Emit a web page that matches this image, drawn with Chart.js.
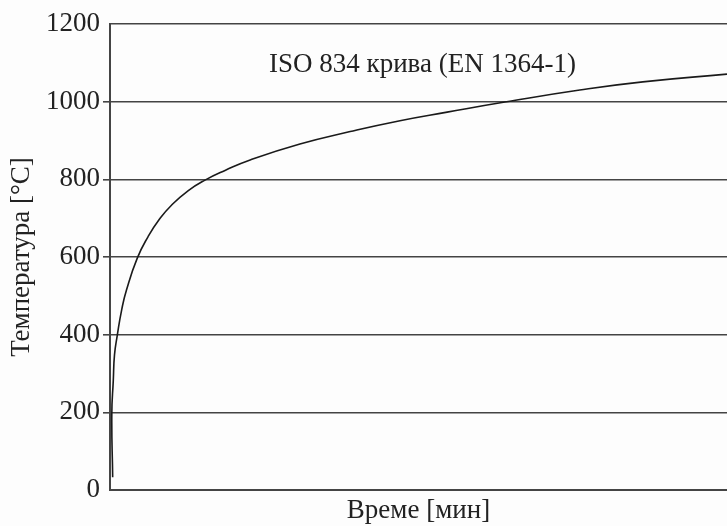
<!DOCTYPE html>
<html>
<head>
<meta charset="utf-8">
<script src="https://cdn.jsdelivr.net/npm/chart.js@4.4.0/dist/chart.umd.min.js"></script>
<style>
  html, body { margin: 0; padding: 0; background: #fdfdfd; }
  #wrap { width: 727px; height: 526px; }
</style>
</head>
<body>
<div id="wrap"><canvas id="isoChart"></canvas></div>
<script>
// values (time in min, temperature in °C)
const timeMin = [0.61, 0.41, 0.75, 1.02, 1.66, 2.65, 3.74, 6.19, 8.62, 11.2, 14.0, 17.77, 21.56, 26.1, 31.8, 43.1, 54.5, 65.8, 76.5, 89.6, 106.6, 120.9, 140];
const tempC   = [33, 196, 283, 348, 399, 464, 515, 597, 652, 697, 734, 771, 798, 823, 850, 891, 923, 951, 973, 999, 1030, 1051, 1071];
const yTicks  = [0, 200, 400, 600, 800, 1000, 1200];

const curveLabel = 'ISO 834 крива (EN 1364-1)';
const xTitle = 'Време [мин]';
const yTitle = 'Температура [°C]';

const serif = '"Liberation Serif", "DejaVu Serif", serif';
const textColor = '#222';
const lineColor = '#444';

// curve name written inside the plot
const curveName = {
    id: 'curveName',
    afterDatasetsDraw(chart) {
        const { ctx, chartArea } = chart;
        ctx.save();
        ctx.font = '27px ' + serif;
        ctx.fillStyle = textColor;
        ctx.textAlign = 'center';
        ctx.textBaseline = 'alphabetic';
        ctx.fillText(curveLabel, (chartArea.left + chartArea.right) / 2 + 4, chartArea.top + 48);
        ctx.restore();
    }
};

const ctx = document.getElementById('isoChart').getContext('2d');

new Chart(ctx, {
    type: 'line',
    data: {
        datasets: [{
            label: curveLabel,
            data: timeMin.map((t, i) => ({ x: t, y: tempC[i] })),
            borderColor: '#1a1a1a',
            borderWidth: 1.6,
            pointRadius: 0,
            fill: false,
            tension: 0.5
        }]
    },
    options: {
        responsive: true,
        maintainAspectRatio: false,
        animation: false,
        layout: { padding: { top: 24, right: 0, bottom: 0, left: 0 } },
        plugins: {
            legend: { display: false },
            tooltip: { enabled: false }
        },
        scales: {
            x: {
                type: 'linear',
                min: 0,
                max: 140,
                ticks: { display: false },
                grid: { display: false, drawTicks: false },
                border: { display: true, color: lineColor, width: 2 },
                title: {
                    display: true,
                    text: xTitle,
                    color: textColor,
                    font: { family: serif, size: 27, lineHeight: 1.1 },
                    padding: { top: 0, bottom: 0 }
                },
                afterFit: s => { s.height = 36; }
            },
            y: {
                min: 0,
                max: 1200,
                afterBuildTicks: s => { s.ticks = yTicks.map(v => ({ value: v })); },
                ticks: {
                    color: textColor,
                    padding: 3,
                    font: { family: serif, size: 27 },
                    callback: v => String(v)
                },
                grid: {
                    color: lineColor,
                    lineWidth: 1.6,
                    tickLength: 7,
                    tickColor: c => (c.tick && (c.tick.value === 0 || c.tick.value === 1200)) ? 'rgba(0,0,0,0)' : lineColor
                },
                border: { display: true, color: lineColor, width: 2 },
                title: {
                    display: true,
                    text: yTitle,
                    color: textColor,
                    font: { family: serif, size: 27, lineHeight: 1.1 },
                    padding: { top: 7, bottom: 0 }
                },
                afterFit: s => { s.width = 110; }
            }
        }
    },
    plugins: [curveName]
});
</script>
</body>
</html>
